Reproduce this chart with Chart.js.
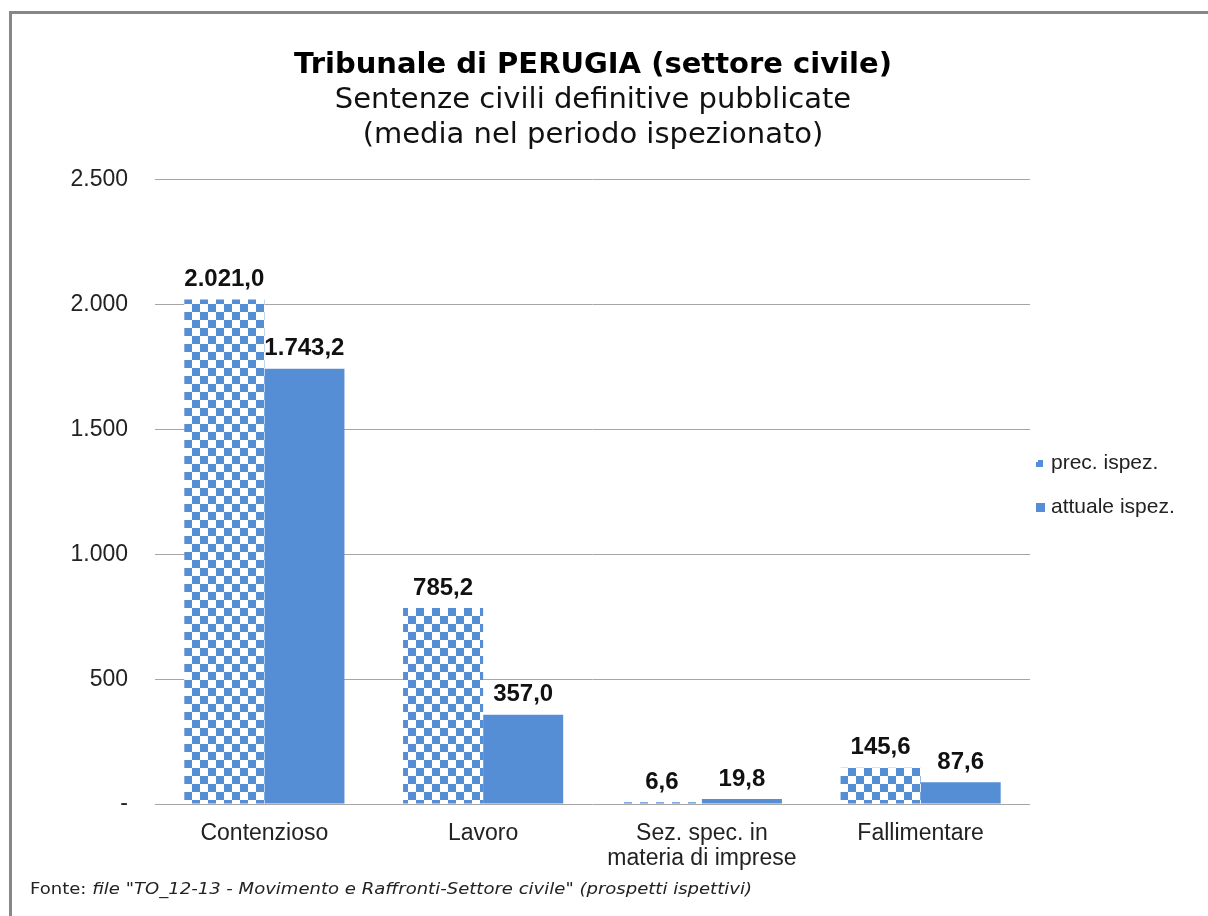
<!DOCTYPE html>
<html>
<head>
<meta charset="utf-8">
<script src="https://cdn.jsdelivr.net/npm/chart.js@4.4.1/dist/chart.umd.min.js"></script>
<style>
  html, body { margin: 0; padding: 0; background: #fff; }
  #wrap { position: relative; width: 1208px; height: 916px; overflow: hidden; }
  #frame { position: absolute; left: 9px; top: 11px; width: 1300px; height: 1000px; border: 3px solid #878787; box-sizing: border-box; }
  #c { position: absolute; left: 0; top: 0; }
  #fonte { position: absolute; left: 30px; top: 879px; font-family: "DejaVu Sans", Verdana, sans-serif; font-size: 16.5px; color: #222; white-space: nowrap; transform-origin: 0 0; }
</style>
</head>
<body>
<div id="wrap">
  <div id="frame"></div>
  <canvas id="c" width="1208" height="916"></canvas>
  <div id="fonte"><span id="fonteTxt">Fonte: <i>file "TO_12-13 - Movimento e Raffronti-Settore civile" (prospetti ispettivi)</i></span></div>
</div>
<script>
const categories = ['Contenzioso', 'Lavoro', ['Sez. spec. in', 'materia di imprese'], 'Fallimentare'];
const seriesNames = ['prec. ispez.', 'attuale ispez.'];
const precIspez = [2021.0, 785.2, 6.6, 145.6];
const attualeIspez = [1743.2, 357.0, 19.8, 87.6];
const yTicks = [0, 500, 1000, 1500, 2000, 2500];

const BLUE = '#558ED5';

// fit footer text width to the reference line length
(function () {
  const el = document.getElementById('fonte');
  const w = el.getBoundingClientRect().width;
  if (w > 0) el.style.transform = 'scaleX(' + (722 / w) + ')';
})();

function makeChecker() {
  const c = document.createElement('canvas');
  c.width = 16; c.height = 16;
  const g = c.getContext('2d');
  g.fillStyle = '#ffffff';
  g.fillRect(0, 0, 16, 16);
  g.fillStyle = BLUE;
  g.fillRect(0, 0, 8, 8);
  g.fillRect(8, 8, 8, 8);
  return g.createPattern(c, 'repeat');
}

function itFormat(v, decimals) {
  const s = v.toFixed(decimals);
  let [int, dec] = s.split('.');
  int = int.replace(/\B(?=(\d{3})+(?!\d))/g, '.');
  return dec !== undefined ? int + ',' + dec : int;
}

const ctx = document.getElementById('c').getContext('2d');
const checker = makeChecker();

const valueLabels = {
  id: 'valueLabels',
  afterDatasetsDraw(chart) {
    const g = chart.ctx;
    g.save();
    g.font = 'bold 24px "Liberation Sans", Arial, sans-serif';
    g.fillStyle = '#111';
    g.textAlign = 'center';
    g.textBaseline = 'middle';
    chart.data.datasets.forEach((ds, di) => {
      const meta = chart.getDatasetMeta(di);
      meta.data.forEach((bar, i) => {
        g.fillText(itFormat(ds.data[i], 1), bar.x, bar.y - 20);
      });
    });
    g.restore();
  }
};

const customLegend = {
  id: 'customLegend',
  afterDraw(chart) {
    const g = chart.ctx;
    const x0 = chart.chartArea.right + 6;
    const ys = [463, 507];
    g.save();
    g.font = '21px "Liberation Sans", Arial, sans-serif';
    g.textBaseline = 'middle';
    g.textAlign = 'left';
    chart.data.datasets.forEach((ds, di) => {
      const y = ys[di];
      g.fillStyle = di === 0 ? BLUE : ds.backgroundColor;
      if (di === 0) {
        g.fillRect(x0, y - 3, 7, 7);
        g.fillStyle = '#fff';
        g.fillRect(x0, y - 3, 2, 2);
      } else {
        g.fillRect(x0, y - 4, 9, 9);
      }
      g.fillStyle = '#222';
      g.fillText(ds.label, x0 + 15, y);
    });
    g.restore();
  }
};

new Chart(ctx, {
  type: 'bar',
  data: {
    labels: categories,
    datasets: [
      { label: seriesNames[0], data: precIspez, backgroundColor: checker, borderWidth: 0 },
      { label: seriesNames[1], data: attualeIspez, backgroundColor: BLUE, borderWidth: 0 }
    ]
  },
  options: {
    responsive: false,
    animation: false,
    devicePixelRatio: 1,
    layout: { padding: { left: 10, right: 32, top: 12, bottom: 0 } },
    datasets: { bar: { categoryPercentage: 0.732, barPercentage: 1.0 } },
    plugins: {
      legend: { display: false },
      tooltip: { enabled: false },
      title: {
        display: true,
        text: 'Tribunale di PERUGIA (settore civile)',
        color: '#000',
        font: { family: '"DejaVu Sans", Verdana, sans-serif', size: 29, weight: 'bold', lineHeight: 1.2 },
        padding: { top: 36, bottom: 0 }
      },
      subtitle: {
        display: true,
        text: ['Sentenze civili definitive pubblicate', '(media nel periodo ispezionato)'],
        color: '#111',
        font: { family: '"DejaVu Sans", Verdana, sans-serif', size: 29, weight: 'normal', lineHeight: 1.207 },
        padding: { top: 0.5, bottom: 26.5 }
      }
    },
    scales: {
      x: {
        grid: { display: false },
        border: { display: false },
        ticks: {
          color: '#222',
          font: { family: '"Liberation Sans", Arial, sans-serif', size: 23, lineHeight: 1.1 },
          padding: 9,
          maxRotation: 0,
          autoSkip: false
        },
        afterFit(s) { s.height = 112; }
      },
      y: {
        min: 0,
        max: 2500,
        afterBuildTicks(s) { s.ticks = yTicks.map(v => ({ value: v })); },
        grid: { color: '#a6a6a6', lineWidth: 1, drawTicks: false },
        border: { display: false },
        ticks: {
          color: '#222',
          font: { family: '"Liberation Sans", Arial, sans-serif', size: 23 },
          padding: 27,
          callback: (v) => v === 0 ? '-' : itFormat(v, 0)
        },
        afterFit(s) { s.width = 145; }
      },
      yRight: {
        position: 'right',
        display: true,
        grid: { display: false, drawTicks: false },
        border: { display: false },
        ticks: { display: false },
        afterFit(s) { s.width = 146; }
      }
    }
  },
  plugins: [valueLabels, customLegend]
});
</script>
</body>
</html>
